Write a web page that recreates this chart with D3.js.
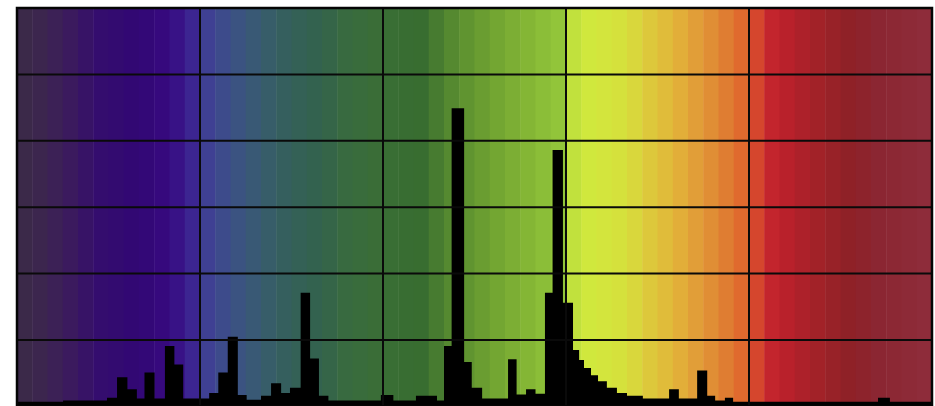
<!DOCTYPE html>
<html>
<head>
<meta charset="utf-8">
<script src="https://cdn.jsdelivr.net/npm/d3@7"></script>
<style>
  html, body { margin: 0; padding: 0; background: #fff; overflow: hidden; }
  svg { display: block; }
</style>
</head>
<body>
<svg id="chart" width="935" height="406"></svg>
<script>
// Spectrum of the lamp: each step starts at a wavelength (nm) and holds one intensity
const stepStart = [400, 415.1, 429.5, 432.8, 436.2, 439.3, 441.8, 445.1, 448.5, 451.6,
  454.5, 463.0, 466.0, 469.1, 472.4, 475.3, 480.0, 483.3, 486.6, 489.5,
  493.0, 496.1, 499.0, 502.1, 519.3, 523.4, 530.8, 537.7, 540.0, 542.5,
  546.6, 549.1, 552.5, 561.0, 563.8, 566.9, 570.0, 573.1, 575.6, 579.0,
  582.3, 584.3, 585.9, 588.2, 590.5, 593.4, 596.7, 600.0, 605.2, 613.8,
  617.0, 623.0, 626.3, 628.9, 632.1, 634.8, 682.3, 686.2];
const intensity = [0.07, 0.09, 0.13, 0.44, 0.26, 0.12, 0.51, 0.12, 0.91, 0.63,
  0.12, 0.20, 0.51, 1.05, 0.17, 0.10, 0.16, 0.35, 0.20, 0.28,
  1.71, 0.72, 0.16, 0.09, 0.17, 0.09, 0.16, 0.09, 0.91, 4.49,
  0.67, 0.28, 0.12, 0.71, 0.18, 0.26, 0.19, 1.71, 3.86, 1.56,
  0.85, 0.70, 0.58, 0.47, 0.38, 0.28, 0.20, 0.16, 0.12, 0.26,
  0.12, 0.54, 0.16, 0.09, 0.13, 0.07, 0.13, 0.07];

// Axis extents and grid divisions
const waveDomain = [400, 700];
const gridWaves = [400, 460, 520, 580, 640, 700];
const gridLevels = [0, 1, 2, 3, 4, 5, 6];

// Colour of visible light along the wavelength axis
const hueStops = [400, 409.2, 417.4, 427.2, 440.3, 450.2, 456.7, 461.6, 468.2, 474.8,
  481.3, 489.5, 499.3, 507.5, 520.0, 532.1, 538.7, 545.2, 555.1, 564.9,
  580.0, 581.3, 587.9, 599.3, 607.5, 615.7, 623.9, 632.1, 639.7, 642.0,
  646.9, 653.4, 663.3, 673.1, 682.9, 700];
const hueColors = ["#3b2b47", "#3c2550", "#3b1a5e", "#340d6e", "#320774", "#370a80", "#3b2090", "#3f3e94", "#3d4c8a", "#3a567c",
  "#375d6c", "#34605a", "#33624d", "#386a40", "#3a6e35", "#376c30", "#4a7e30", "#5c9030", "#6fa232", "#80b234",
  "#95c93b", "#bde03d", "#d1e83d", "#d6e03c", "#ddc83b", "#e2b43a", "#e19a37", "#df7f32", "#e0622c", "#d74a2d",
  "#c4262d", "#b7202b", "#a02228", "#8e2127", "#8b2632", "#8e2d3b"];
const bandStep = 5;

const svg = d3.select("#chart");
const plot = { left: 17, right: 932, top: 8, bottom: 406.4 };

const x = d3.scaleLinear().domain(waveDomain).range([plot.left, plot.right]);
const y = d3.scaleLinear().domain([0, 6]).range([plot.bottom, plot.top]);
const hue = d3.scaleLinear().domain(hueStops).range(hueColors).interpolate(d3.interpolateRgb);

svg.append("clipPath").attr("id", "plot-clip")
  .append("rect")
  .attr("x", plot.left).attr("y", plot.top)
  .attr("width", plot.right - plot.left).attr("height", plot.bottom - plot.top);

const body = svg.append("g").attr("clip-path", "url(#plot-clip)");

// Stepped colour backdrop
const bands = d3.range(waveDomain[0], waveDomain[1], bandStep);
body.append("g").selectAll("rect")
  .data(bands)
  .join("rect")
  .attr("x", d => x(d))
  .attr("y", plot.top)
  .attr("width", d => x(d + bandStep) - x(d) + 0.5)
  .attr("height", plot.bottom - plot.top)
  .attr("fill", d => hue(d + bandStep / 2));

// Spectrum as a stepped histogram
const points = stepStart.map((w, i) => ({ w, v: intensity[i] }));
points.push({ w: waveDomain[1], v: intensity[intensity.length - 1] });
const area = d3.area()
  .x(d => x(d.w))
  .y0(y(0))
  .y1(d => y(d.v))
  .curve(d3.curveStepAfter);
body.append("path").datum(points).attr("d", area).attr("fill", "#000");

// Grid
const grid = svg.append("g").attr("stroke", "#0a0a0a").attr("stroke-width", 2);
grid.selectAll("line.v")
  .data(gridWaves.slice(1, -1))
  .join("line").attr("class", "v")
  .attr("x1", d => x(d)).attr("x2", d => x(d))
  .attr("y1", plot.top).attr("y2", plot.bottom);
grid.selectAll("line.h")
  .data(gridLevels.slice(1, -1))
  .join("line").attr("class", "h")
  .attr("x1", plot.left).attr("x2", plot.right)
  .attr("y1", d => y(d)).attr("y2", d => y(d));

// Frame
svg.append("rect")
  .attr("x", plot.left).attr("y", plot.top)
  .attr("width", plot.right - plot.left).attr("height", plot.bottom - plot.top)
  .attr("fill", "none").attr("stroke", "#050505").attr("stroke-width", 2.5);
</script>
</body>
</html>
